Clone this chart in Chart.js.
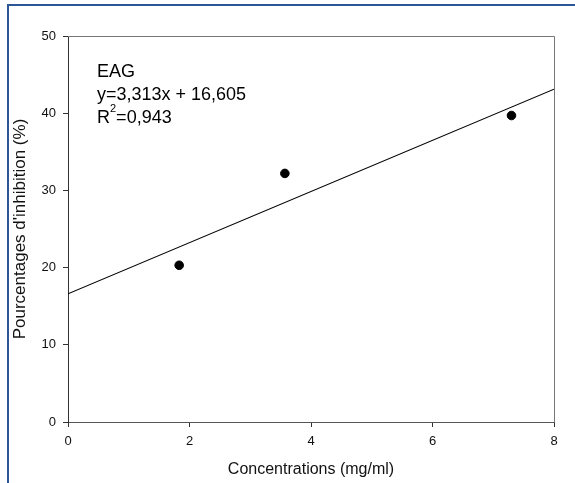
<!DOCTYPE html>
<html>
<head>
<meta charset="utf-8">
<script src="https://cdn.jsdelivr.net/npm/chart.js@4"></script>
<style>
  html, body { margin: 0; padding: 0; background: #fff; }
  #wrap { position: relative; width: 575px; height: 483px; }
  #frame { position: absolute; left: 7px; top: 4px; right: 0; bottom: 0; border-top: 2px solid #2b5797; border-left: 2px solid #2b5797; pointer-events: none; }
  canvas { display: block; }
</style>
</head>
<body>
<div id="wrap">
  <canvas id="chart" width="575" height="483"></canvas>
  <div id="frame"></div>
</div>
<script>
// Inhibition vs concentration, with linear fit
const concentrations = [1.83, 3.57, 7.30];
const inhibition = [20.3, 32.2, 39.7];
const slope = 3.313;
const intercept = 16.605;
const r2 = '0,943';
const xTicks = [0, 2, 4, 6, 8];
const yTicks = [0, 10, 20, 30, 40, 50];

const FONT = '"Liberation Sans", Arial, sans-serif';

const fitLine = [0, 8].map(x => ({ x: x, y: slope * x + intercept }));

// box around plot area + equation text
const framePlugin = {
  id: 'frameAndText',
  afterDraw(chart) {
    const { ctx, chartArea: a } = chart;
    ctx.save();
    ctx.strokeStyle = '#777';
    ctx.lineWidth = 1;
    ctx.beginPath();
    ctx.moveTo(a.left, a.top + 0.5);
    ctx.lineTo(a.right + 0.5, a.top + 0.5);
    ctx.lineTo(a.right + 0.5, a.bottom);
    ctx.stroke();

    ctx.fillStyle = '#000';
    ctx.textBaseline = 'alphabetic';
    ctx.font = '18px ' + FONT;
    const tx = 97;
    ctx.fillText('EAG', tx, 77);
    ctx.fillText('y=' + String(slope).replace('.', ',') + 'x + ' + String(intercept).replace('.', ','), tx, 100);
    ctx.fillText('R', tx, 123);
    const rw = ctx.measureText('R').width;
    ctx.font = '11px ' + FONT;
    ctx.fillText('2', tx + rw, 112);
    const sw = ctx.measureText('2').width;
    ctx.font = '18px ' + FONT;
    ctx.fillText('=' + r2, tx + rw + sw, 123);
    ctx.restore();
  }
};

new Chart(document.getElementById('chart'), {
  type: 'scatter',
  data: {
    datasets: [
      {
        data: concentrations.map((x, i) => ({ x: x, y: inhibition[i] })),
        backgroundColor: '#000',
        borderColor: '#000',
        pointRadius: 4.3,
        pointHoverRadius: 4.3
      },
      {
        type: 'line',
        data: fitLine,
        borderColor: '#000',
        borderWidth: 1.2,
        pointRadius: 0,
        fill: false
      }
    ]
  },
  options: {
    responsive: false,
    animation: false,
    layout: { padding: { top: 36, right: 21, left: 0, bottom: 0 } },
    plugins: { legend: { display: false }, tooltip: { enabled: false } },
    scales: {
      x: {
        type: 'linear', min: 0, max: 8,
        afterFit: s => { s.height = 61; },
        afterBuildTicks: s => { s.ticks = xTicks.map(v => ({ value: v })); },
        border: { color: '#555', width: 1 },
        grid: { drawOnChartArea: false, drawTicks: true, tickLength: 5, color: '#333' },
        ticks: { color: '#111', padding: 7, font: { family: FONT, size: 13 } },
        title: { display: true, text: 'Concentrations (mg/ml)', color: '#111', padding: { top: 6 }, font: { family: FONT, size: 16 } }
      },
      y: {
        type: 'linear', min: 0, max: 50,
        afterFit: s => { s.width = 68; },
        afterBuildTicks: s => { s.ticks = yTicks.map(v => ({ value: v })); },
        border: { color: '#333', width: 1 },
        grid: { drawOnChartArea: false, drawTicks: true, tickLength: 5, color: '#333' },
        ticks: { color: '#111', padding: 7, font: { family: FONT, size: 13 } },
        title: { display: true, text: "Pourcentages d'inhibition (%)", color: '#111', padding: { top: 10, bottom: 0 }, font: { family: FONT, size: 17 } }
      }
    }
  },
  plugins: [framePlugin]
});
</script>
</body>
</html>
